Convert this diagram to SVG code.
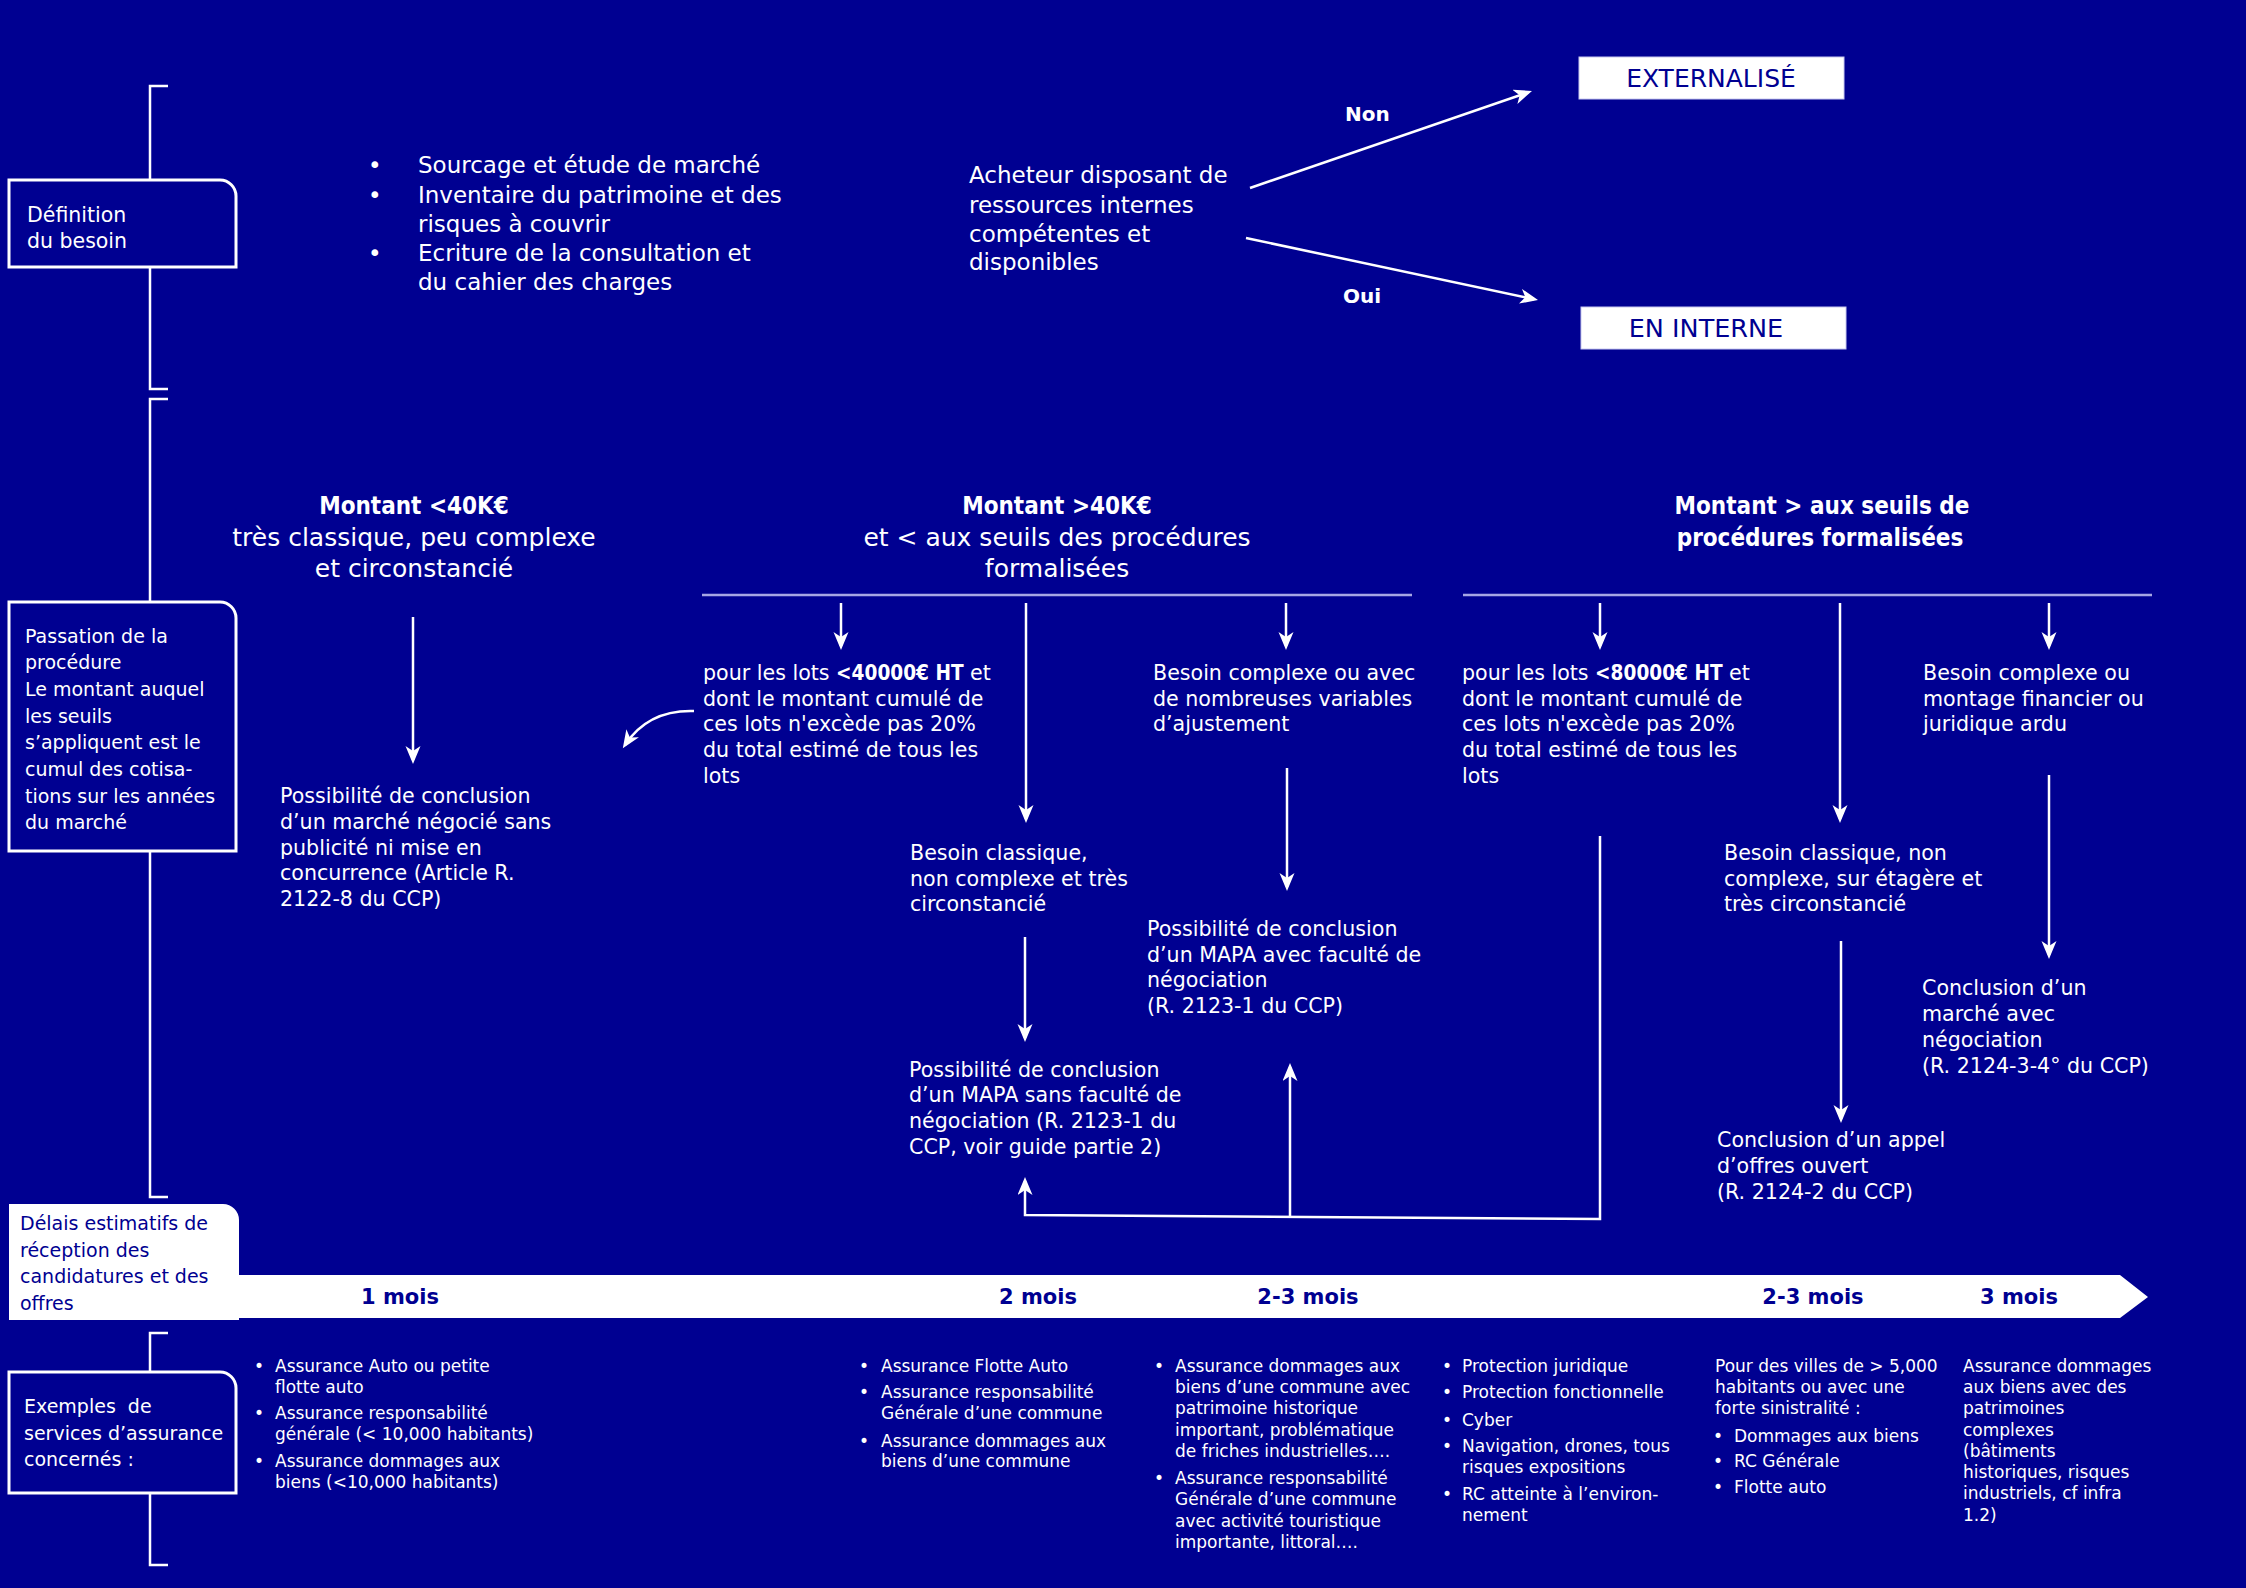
<svg xmlns="http://www.w3.org/2000/svg" width="2246" height="1588" viewBox="0 0 2246 1588">
<defs>
<style>
.t{font-family:"DejaVu Sans","Open Sans",sans-serif;fill:#ffffff}
.dk{fill:#000091}
.hd{font-size:25px}
.hb{font-family:"DejaVu Sans Condensed","DejaVu Sans",sans-serif;font-stretch:condensed;font-size:24px;font-weight:700}
.s23{font-size:23px}
.s20{font-size:20.6px}
.s19{font-size:19px}
.s16{font-size:17px}
.bs{font-family:"DejaVu Sans Condensed","DejaVu Sans",sans-serif;font-stretch:condensed;font-weight:700;font-size:20.6px}
.b{font-weight:700}
.m{text-anchor:middle}
.mois{font-size:21px;font-weight:700;fill:#000091;text-anchor:middle}
.box{fill:#000091;stroke:#ffffff;stroke-width:3}
.wbox{fill:#ffffff;stroke:#c8c8f0;stroke-width:1}
.ln{fill:none;stroke:#ffffff;stroke-width:2.5}
.sep{fill:none;stroke:#a6a6e4;stroke-width:2.5}
.arr{fill:none;stroke:#ffffff;stroke-width:2.5;marker-end:url(#ah)}
</style>
<marker id="ah" markerUnits="userSpaceOnUse" markerWidth="20" markerHeight="16" refX="14" refY="7.5" orient="auto" viewBox="0 0 20 16">
<path d="M0,0 L18,7.5 L0,15 L5,7.5 Z" fill="#ffffff"/>
</marker>
</defs>
<rect x="0" y="0" width="2246" height="1588" fill="#000091"/>

<g id="timeline-brackets">
<path class="ln" d="M168,86 H150 V389 H168"/>
<path class="ln" d="M168,399 H150 V1197 H168"/>
<path class="ln" d="M168,1333 H150 V1565 H168"/>
</g>

<g id="connectors">
<path class="arr" d="M1250,188 L1528.2,92.3"/>
<path class="arr" d="M1246,238 L1534.1,299.2"/>
<path class="arr" d="M413,617 V760"/>
<path class="arr" d="M841,603 V646"/>
<path class="arr" d="M1026,603 V819"/>
<path class="arr" d="M1286,603 V646"/>
<path class="arr" d="M1600,603 V646"/>
<path class="arr" d="M1840,603 V819"/>
<path class="arr" d="M2049,603 V646"/>
<path class="arr" d="M694,711 C662,710 640,722 625,745"/>
<path class="arr" d="M1025,937 V1038"/>
<path class="arr" d="M1287,768 V887"/>
<path class="arr" d="M1841,941 V1119"/>
<path class="arr" d="M2049,775 V955"/>
<path class="arr" d="M1600,836 V1219 L1025,1215 V1181"/>
<path class="arr" d="M1290,1217 V1067"/>
</g>

<g id="edge-label-non"><text class="t b" style="font-size:20px" x="1345" y="121">Non</text></g>
<g id="edge-label-oui"><text class="t b" style="font-size:20px" x="1343" y="303">Oui</text></g>

<g id="node-definition">
<path class="box" d="M9,180 H220 A16,16 0 0 1 236,196 V267 H9 Z"/>
<text class="t" style="font-size:20.5px"><tspan x="27" y="222">Définition</tspan><tspan x="27" y="248">du besoin</tspan></text>
</g>

<g id="node-definition-list">
<text class="t s23"><tspan x="368" y="173">•</tspan><tspan x="418" y="173">Sourcage et étude de marché</tspan><tspan x="368" y="203">•</tspan><tspan x="418" y="203">Inventaire du patrimoine et des</tspan><tspan x="418" y="232">risques à couvrir</tspan><tspan x="368" y="261">•</tspan><tspan x="418" y="261">Ecriture de la consultation et</tspan><tspan x="418" y="290">du cahier des charges</tspan></text>
</g>

<g id="node-acheteur">
<text class="t s23"><tspan x="969" y="183">Acheteur disposant de</tspan><tspan x="969" y="213">ressources internes</tspan><tspan x="969" y="242">compétentes et</tspan><tspan x="969" y="270">disponibles</tspan></text>
</g>

<g id="node-externalise">
<rect class="wbox" x="1579" y="57" width="265" height="42"/>
<text class="t dk m" x="1711" y="87" style="font-size:25px">EXTERNALISÉ</text>
</g>
<g id="node-interne">
<rect class="wbox" x="1581" y="307" width="265" height="42"/>
<text class="t dk m" x="1706" y="337" style="font-size:25.5px">EN INTERNE</text>
</g>

<g id="node-passation">
<path class="box" d="M9,602 H220 A16,16 0 0 1 236,618 V851 H9 Z"/>
<text class="t s19"><tspan x="25" y="643">Passation de la</tspan><tspan x="25" y="669">procédure</tspan><tspan x="25" y="696">Le montant auquel</tspan><tspan x="25" y="723">les seuils</tspan><tspan x="25" y="749">s’appliquent est le</tspan><tspan x="25" y="776">cumul des cotisa-</tspan><tspan x="25" y="803">tions sur les années</tspan><tspan x="25" y="829">du marché</tspan></text>
</g>

<g id="node-head-40k">
<text class="t m"><tspan class="hb" x="414" y="514">Montant &lt;40K€</tspan><tspan class="hd" x="414" y="546">très classique, peu complexe</tspan><tspan class="hd" x="414" y="577">et circonstancié</tspan></text>
</g>

<g id="node-head-mid">
<text class="t m"><tspan class="hb" x="1057" y="514">Montant &gt;40K€</tspan><tspan class="hd" x="1057" y="546">et &lt; aux seuils des procédures</tspan><tspan class="hd" x="1057" y="577">formalisées</tspan></text>
<path class="sep" d="M702,595 H1412"/>
</g>

<g id="node-head-formal">
<text class="t hb m"><tspan x="1822" y="514">Montant &gt; aux seuils de</tspan><tspan x="1820" y="546">procédures formalisées</tspan></text>
<path class="sep" d="M1463,595 H2152"/>
</g>

<g id="node-negocie-sans-pub">
<text class="t s20"><tspan x="280" y="803">Possibilité de conclusion</tspan><tspan x="280" y="829">d’un marché négocié sans</tspan><tspan x="280" y="855">publicité ni mise en</tspan><tspan x="280" y="880">concurrence (Article R.</tspan><tspan x="280" y="906">2122-8 du CCP)</tspan></text>
</g>

<g id="node-lots-40000">
<text class="t s20"><tspan x="703" y="680">pour les lots </tspan><tspan class="bs">&lt;40000€ HT</tspan><tspan> et</tspan><tspan x="703" y="706">dont le montant cumulé de</tspan><tspan x="703" y="731">ces lots n'excède pas 20%</tspan><tspan x="703" y="757">du total estimé de tous les</tspan><tspan x="703" y="783">lots</tspan></text>
</g>

<g id="node-besoin-complexe-mid">
<text class="t s20"><tspan x="1153" y="680">Besoin complexe ou avec</tspan><tspan x="1153" y="706">de nombreuses variables</tspan><tspan x="1153" y="731">d’ajustement</tspan></text>
</g>

<g id="node-besoin-classique-mid">
<text class="t s20"><tspan x="910" y="860">Besoin classique,</tspan><tspan x="910" y="886">non complexe et très</tspan><tspan x="910" y="911">circonstancié</tspan></text>
</g>

<g id="node-mapa-avec">
<text class="t s20"><tspan x="1147" y="936">Possibilité de conclusion</tspan><tspan x="1147" y="962">d’un MAPA avec faculté de</tspan><tspan x="1147" y="987">négociation</tspan><tspan x="1147" y="1013">(R. 2123-1 du CCP)</tspan></text>
</g>

<g id="node-mapa-sans">
<text class="t s20"><tspan x="909" y="1077">Possibilité de conclusion</tspan><tspan x="909" y="1102">d’un MAPA sans faculté de</tspan><tspan x="909" y="1128">négociation (R. 2123-1 du</tspan><tspan x="909" y="1154">CCP, voir guide partie 2)</tspan></text>
</g>

<g id="node-lots-80000">
<text class="t s20"><tspan x="1462" y="680">pour les lots </tspan><tspan class="bs">&lt;80000€ HT</tspan><tspan> et</tspan><tspan x="1462" y="706">dont le montant cumulé de</tspan><tspan x="1462" y="731">ces lots n'excède pas 20%</tspan><tspan x="1462" y="757">du total estimé de tous les</tspan><tspan x="1462" y="783">lots</tspan></text>
</g>

<g id="node-besoin-complexe-formal">
<text class="t s20"><tspan x="1923" y="680">Besoin complexe ou</tspan><tspan x="1923" y="706">montage financier ou</tspan><tspan x="1923" y="731">juridique ardu</tspan></text>
</g>

<g id="node-besoin-classique-formal">
<text class="t s20"><tspan x="1724" y="860">Besoin classique, non</tspan><tspan x="1724" y="886">complexe, sur étagère et</tspan><tspan x="1724" y="911">très circonstancié</tspan></text>
</g>

<g id="node-negociation">
<text class="t s20"><tspan x="1922" y="995">Conclusion d’un</tspan><tspan x="1922" y="1021">marché avec</tspan><tspan x="1922" y="1047">négociation</tspan><tspan x="1922" y="1073">(R. 2124-3-4° du CCP)</tspan></text>
</g>

<g id="node-appel-offres">
<text class="t s20"><tspan x="1717" y="1147">Conclusion d’un appel</tspan><tspan x="1717" y="1173">d’offres ouvert</tspan><tspan x="1717" y="1199">(R. 2124-2 du CCP)</tspan></text>
</g>

<g id="node-delais">
<path fill="#ffffff" d="M9,1204 H223 A16,16 0 0 1 239,1220 V1275 H2120 L2148,1297 L2120,1318 H239 V1320 H9 Z"/>
<text class="t dk s19"><tspan x="20" y="1230">Délais estimatifs de</tspan><tspan x="20" y="1257">réception des</tspan><tspan x="20" y="1283">candidatures et des</tspan><tspan x="20" y="1310">offres</tspan></text>
<text class="t mois" x="400" y="1304">1 mois</text>
<text class="t mois" x="1038" y="1304">2 mois</text>
<text class="t mois" x="1308" y="1304">2-3 mois</text>
<text class="t mois" x="1813" y="1304">2-3 mois</text>
<text class="t mois" x="2019" y="1304">3 mois</text>
</g>

<g id="node-exemples">
<path class="box" d="M9,1372 H220 A16,16 0 0 1 236,1388 V1493 H9 Z"/>
<text class="t s19" style="white-space:pre"><tspan x="24" y="1413">Exemples  de</tspan><tspan x="24" y="1440">services d’assurance</tspan><tspan x="24" y="1466">concernés :</tspan></text>
</g>

<g id="node-ex-col1">
<text class="t s16"><tspan x="254" y="1372">•</tspan><tspan x="275" y="1372">Assurance Auto ou petite</tspan><tspan x="275" y="1393">flotte auto</tspan><tspan x="254" y="1419">•</tspan><tspan x="275" y="1419">Assurance responsabilité</tspan><tspan x="275" y="1440">générale (&lt; 10,000 habitants)</tspan><tspan x="254" y="1467">•</tspan><tspan x="275" y="1467">Assurance dommages aux</tspan><tspan x="275" y="1488">biens (&lt;10,000 habitants)</tspan></text>
</g>

<g id="node-ex-col2">
<text class="t s16"><tspan x="859" y="1372">•</tspan><tspan x="881" y="1372">Assurance Flotte Auto</tspan><tspan x="859" y="1398">•</tspan><tspan x="881" y="1398">Assurance responsabilité</tspan><tspan x="881" y="1419">Générale d’une commune</tspan><tspan x="859" y="1447">•</tspan><tspan x="881" y="1447">Assurance dommages aux</tspan><tspan x="881" y="1467">biens d’une commune</tspan></text>
</g>

<g id="node-ex-col3">
<text class="t s16"><tspan x="1154" y="1372">•</tspan><tspan x="1175" y="1372">Assurance dommages aux</tspan><tspan x="1175" y="1393">biens d’une commune avec</tspan><tspan x="1175" y="1414">patrimoine historique</tspan><tspan x="1175" y="1436">important, problématique</tspan><tspan x="1175" y="1457">de friches industrielles….</tspan><tspan x="1154" y="1484">•</tspan><tspan x="1175" y="1484">Assurance responsabilité</tspan><tspan x="1175" y="1505">Générale d’une commune</tspan><tspan x="1175" y="1527">avec activité touristique</tspan><tspan x="1175" y="1548">importante, littoral….</tspan></text>
</g>

<g id="node-ex-col4">
<text class="t s16"><tspan x="1442" y="1372">•</tspan><tspan x="1462" y="1372">Protection juridique</tspan><tspan x="1442" y="1398">•</tspan><tspan x="1462" y="1398">Protection fonctionnelle</tspan><tspan x="1442" y="1426">•</tspan><tspan x="1462" y="1426">Cyber</tspan><tspan x="1442" y="1452">•</tspan><tspan x="1462" y="1452">Navigation, drones, tous</tspan><tspan x="1462" y="1473">risques expositions</tspan><tspan x="1442" y="1500">•</tspan><tspan x="1462" y="1500">RC atteinte à l’environ-</tspan><tspan x="1462" y="1521">nement</tspan></text>
</g>

<g id="node-ex-col5">
<text class="t s16"><tspan x="1715" y="1372">Pour des villes de &gt; 5,000</tspan><tspan x="1715" y="1393">habitants ou avec une</tspan><tspan x="1715" y="1414">forte sinistralité :</tspan><tspan x="1713" y="1442">•</tspan><tspan x="1734" y="1442">Dommages aux biens</tspan><tspan x="1713" y="1467">•</tspan><tspan x="1734" y="1467">RC Générale</tspan><tspan x="1713" y="1493">•</tspan><tspan x="1734" y="1493">Flotte auto</tspan></text>
</g>

<g id="node-ex-col6">
<text class="t s16"><tspan x="1963" y="1372">Assurance dommages</tspan><tspan x="1963" y="1393">aux biens avec des</tspan><tspan x="1963" y="1414">patrimoines</tspan><tspan x="1963" y="1436">complexes</tspan><tspan x="1963" y="1457">(bâtiments</tspan><tspan x="1963" y="1478">historiques, risques</tspan><tspan x="1963" y="1499">industriels, cf infra</tspan><tspan x="1963" y="1521">1.2)</tspan></text>
</g>
</svg>
